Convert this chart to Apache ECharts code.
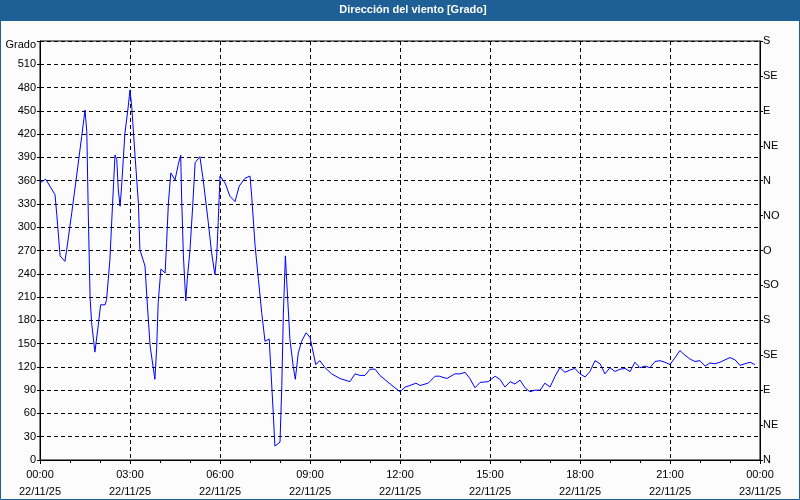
<!DOCTYPE html>
<html><head><meta charset="utf-8">
<script src="https://cdn.jsdelivr.net/npm/echarts@6/dist/echarts.min.js"></script>
<style>html,body{margin:0;padding:0;background:#fff}#c{width:800px;height:500px}</style>
</head><body><div id="c"></div>
<script>
const titleText = 'Dirección del viento [Grado]';
const leftAxisName = 'Grado';
// hours since 22/11/25 00:00
const hours = [0,0.19,0.5,0.56,0.67,0.83,0.89,1.06,1.22,1.39,1.5,1.56,1.61,1.67,1.72,1.83,1.94,2.02,2.17,2.22,2.33,2.42,2.5,2.56,2.61,2.67,2.72,2.83,2.94,3.0,3.06,3.17,3.28,3.33,3.5,3.56,3.67,3.83,3.89,3.94,4.03,4.17,4.22,4.28,4.36,4.5,4.61,4.69,4.72,4.78,4.86,4.91,5.0,5.09,5.17,5.33,5.44,5.61,5.72,5.83,5.89,5.94,6.0,6.17,6.33,6.5,6.64,6.83,7.0,7.06,7.17,7.28,7.39,7.5,7.64,7.69,7.78,7.83,8.0,8.06,8.11,8.18,8.22,8.33,8.44,8.51,8.61,8.72,8.87,9.0,9.11,9.19,9.33,9.5,9.72,10.0,10.33,10.5,10.67,10.83,11.0,11.17,11.33,11.67,12.0,12.17,12.33,12.53,12.67,12.94,13.17,13.31,13.56,13.83,14.0,14.17,14.33,14.5,14.67,14.94,15.17,15.33,15.5,15.67,15.83,16.0,16.17,16.33,16.5,16.67,16.83,17.0,17.17,17.33,17.5,17.67,17.83,18.0,18.17,18.33,18.5,18.67,18.83,19.0,19.17,19.33,19.5,19.67,19.83,20.0,20.17,20.33,20.5,20.67,20.83,21.0,21.17,21.33,21.5,21.67,21.83,22.0,22.17,22.33,22.5,22.67,22.83,23.0,23.17,23.33,23.5,23.67,23.83];
const grado = [357,362,342,316,263,256,271,319,366,417,451,423,316,209,177,139,173,200,200,207,258,331,393,387,348,327,353,421,455,477,454,391,331,271,250,211,147,104,145,203,246,241,280,331,370,361,381,393,340,263,205,233,271,327,383,391,361,306,267,239,263,306,366,357,340,333,353,363,366,338,276,233,190,153,156,121,57,18,23,96,186,263,233,156,121,104,138,153,164,158,138,123,128,119,111,105,101,111,109,109,117,117,109,98,88,94,96,99,96,99,108,108,105,111,111,113,105,93,100,101,108,104,94,101,98,103,93,88,90,90,99,94,108,119,113,116,118,111,107,114,128,124,111,119,114,117,118,114,126,119,121,119,127,128,126,123,132,141,135,130,127,128,121,125,124,126,129,132,129,122,124,126,123];
const dirValues = [0,45,90,135,180,225,270,315,360,405,450,495,540];
const dirNames = ['N','NE','E','SE','S','SO','O','NO','N','NE','E','SE','S'];
const dayLabels = ['22/11/25','23/11/25'];

const chart = echarts.init(document.getElementById('c'), null, {renderer:'canvas'});
const FONT = 'Liberation Sans';
const dashed = {color:'#000', width:1, type:[4,3]};
chart.setOption({
  animation:false,
  backgroundColor:'#fbfcfb',
  textStyle:{fontFamily:FONT},
  graphic:[
    {type:'rect', shape:{x:0,y:0,width:800,height:21}, style:{fill:'#1e6096'}, z:10},
    {type:'text', x:413, y:10, style:{text:titleText, fill:'#fff', font:'bold 11px "Liberation Sans"', textAlign:'center', textVerticalAlign:'middle'}, z:11},
    {type:'rect', shape:{x:0.5,y:0.5,width:799,height:499}, style:{fill:null, stroke:'#1e6096', lineWidth:1}, z:12}
  ],
  grid:{left:40, right:40, top:41, bottom:39, show:true, borderColor:'#000', borderWidth:1, backgroundColor:'transparent'},
  xAxis:{
    type:'value', min:0, max:24, interval:3,
    axisLine:{show:true, lineStyle:{color:'#000'}},
    axisTick:{show:true, length:4, lineStyle:{color:'#000'}},
    minorTick:{show:true, splitNumber:3, length:3, lineStyle:{color:'#000'}},
    splitLine:{show:true, lineStyle:dashed},
    axisLabel:{color:'#000', fontSize:11, fontFamily:FONT, lineHeight:17, margin:6,
      formatter:function(v){ const h=v%24; return (h<10?'0':'')+h+':00\n'+dayLabels[v>=24?1:0]; }}
  },
  yAxis:[
    {type:'value', min:0, max:540, interval:30, position:'left',
     axisLine:{show:true, lineStyle:{color:'#000'}},
     axisTick:{show:true, length:3, lineStyle:{color:'#000'}},
     splitLine:{show:true, lineStyle:dashed},
     axisLabel:{color:'#000', fontSize:11, fontFamily:FONT, margin:4,
       rich:{g:{fontSize:11, fontFamily:FONT, color:'#000', padding:[8,0,0,0]}},
       formatter:function(v){ return v===540 ? '{g|'+leftAxisName+'}' : String(v); }}
    },
    {type:'value', min:0, max:540, interval:45, position:'right',
     axisLine:{show:true, lineStyle:{color:'#000'}},
     axisTick:{show:true, length:3, lineStyle:{color:'#000'}},
     splitLine:{show:false},
     axisLabel:{color:'#000', fontSize:11, fontFamily:FONT, margin:3,
       formatter:function(v){ const i=dirValues.indexOf(v); return i>=0?dirNames[i]:''; }}
    }
  ],
  series:[{
    type:'line', yAxisIndex:0, showSymbol:false, symbol:'none',
    lineStyle:{color:'#0000ff', width:1},
    data:hours.map(function(h,i){return [h, grado[i]];})
  }]
});
</script></body></html>
